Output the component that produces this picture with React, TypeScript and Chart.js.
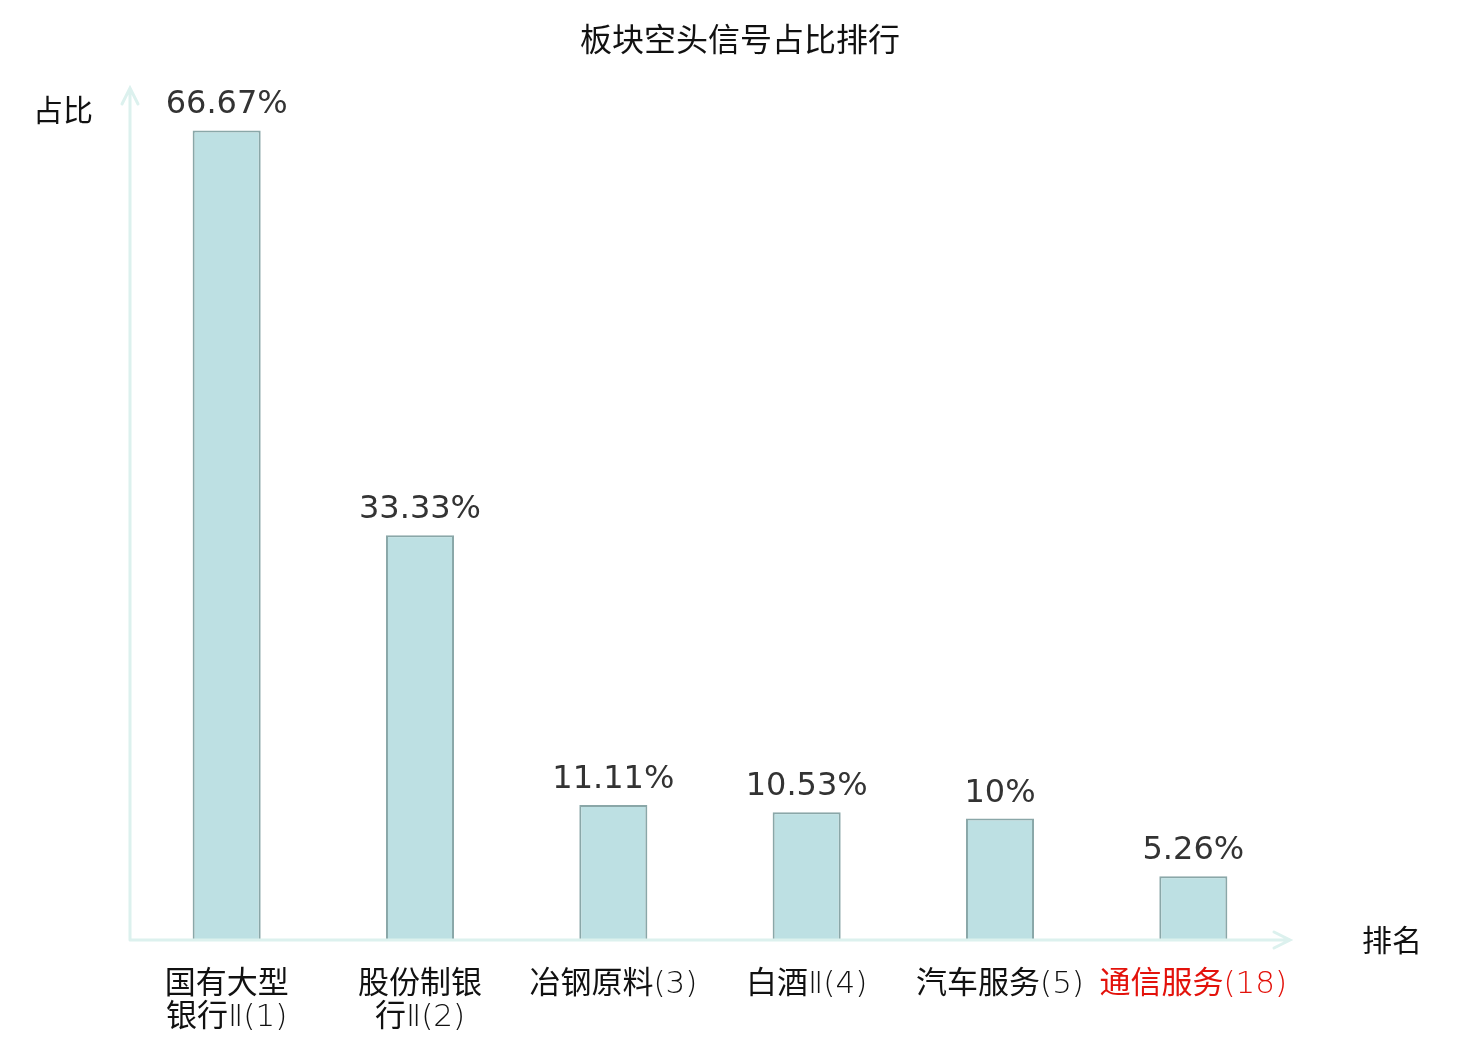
import { useEffect, useRef } from 'react';
import { Chart, registerables } from 'chart.js';

Chart.register(...registerables);

const categories: string[][] = [
  ['国有大型', '银行Ⅱ(1)'],
  ['股份制银', '行Ⅱ(2)'],
  ['冶钢原料(3)'],
  ['白酒Ⅱ(4)'],
  ['汽车服务(5)'],
  ['通信服务(18)'],
];
const values = [66.67, 33.33, 11.11, 10.53, 10, 5.26];
const valueLabels = ['66.67%', '33.33%', '11.11%', '10.53%', '10%', '5.26%'];
const labelColors = ['#111', '#111', '#111', '#111', '#111', '#e3120b'];

const TITLE = '板块空头信号占比排行';
const FONT = '"DejaVu Sans", "Noto Sans CJK SC", sans-serif';
const TICK_FONT = '"DejaVu Sans Light", "Noto Sans CJK SC", sans-serif';
const AXIS_COLOR = '#dcf1ee';

const decorPlugin = {
  id: 'decor',
  afterDatasetsDraw(chart: any) {
    const { ctx, chartArea } = chart;
    const { left, right, top, bottom } = chartArea;
    ctx.save();
    // title
    ctx.fillStyle = '#111';
    ctx.font = `32px ${FONT}`;
    ctx.textAlign = 'center';
    ctx.textBaseline = 'middle';
    ctx.fillText(TITLE, chart.width / 2, 43);

    // axes with arrows
    ctx.strokeStyle = AXIS_COLOR;
    ctx.lineWidth = 3;
    ctx.lineCap = 'round';
    ctx.beginPath();
    ctx.moveTo(left, bottom);
    ctx.lineTo(left, top - 2);
    ctx.moveTo(left - 8, top + 14);
    ctx.lineTo(left, top - 2);
    ctx.lineTo(left + 8, top + 14);
    ctx.moveTo(left, bottom);
    ctx.lineTo(right, bottom);
    ctx.moveTo(right - 16, bottom - 8);
    ctx.lineTo(right, bottom);
    ctx.lineTo(right - 16, bottom + 8);
    ctx.stroke();

    // axis names
    ctx.fillStyle = '#111';
    ctx.font = `30px ${FONT}`;
    ctx.fillText('占比', 63, top + 23);
    ctx.fillText('排名', right + 102, bottom + 3);

    // value labels
    const meta = chart.getDatasetMeta(0);
    ctx.fillStyle = '#333';
    ctx.font = `32px ${FONT}`;
    ctx.textBaseline = 'alphabetic';
    meta.data.forEach((bar: any, i: number) => {
      ctx.fillText(valueLabels[i], bar.x, bar.y - 17);
    });
    ctx.restore();
  },
};

export default function App() {
  const canvasRef = useRef<HTMLCanvasElement>(null);
  const chartRef = useRef<Chart | null>(null);

  useEffect(() => {
    document.body.style.margin = '0';
    if (!canvasRef.current) return;
    if (chartRef.current) chartRef.current.destroy();

    chartRef.current = new Chart(canvasRef.current, {
      type: 'bar',
      data: {
        labels: categories,
        datasets: [
          {
            data: values,
            backgroundColor: '#bde0e3',
            borderColor: '#8aa7a8',
            borderWidth: 2,
            categoryPercentage: 1,
            barPercentage: 0.352,
          },
        ],
      },
      options: {
        responsive: false,
        animation: false,
        layout: { padding: { left: 130, right: 190, top: 90, bottom: 0 } },
        plugins: {
          legend: { display: false },
          tooltip: { enabled: false },
          title: { display: false },
        },
        scales: {
          x: {
            grid: { display: false, drawTicks: false },
            border: { display: false },
            ticks: {
              color: labelColors,
              font: { family: TICK_FONT, size: 31, lineHeight: 1.05 },
              padding: 29,
              maxRotation: 0,
              autoSkip: false,
            },
            afterFit: (scale: any) => {
              scale.height = 100;
            },
          },
          y: {
            display: false,
            min: 0,
            max: 70,
          },
        },
      },
      plugins: [decorPlugin],
    });

    return () => {
      if (chartRef.current) chartRef.current.destroy();
      chartRef.current = null;
    };
  }, []);

  return (
    <div style={{ width: 1480, height: 1040, background: '#fff' }}>
      <canvas ref={canvasRef} width={1480} height={1040} />
    </div>
  );
}
